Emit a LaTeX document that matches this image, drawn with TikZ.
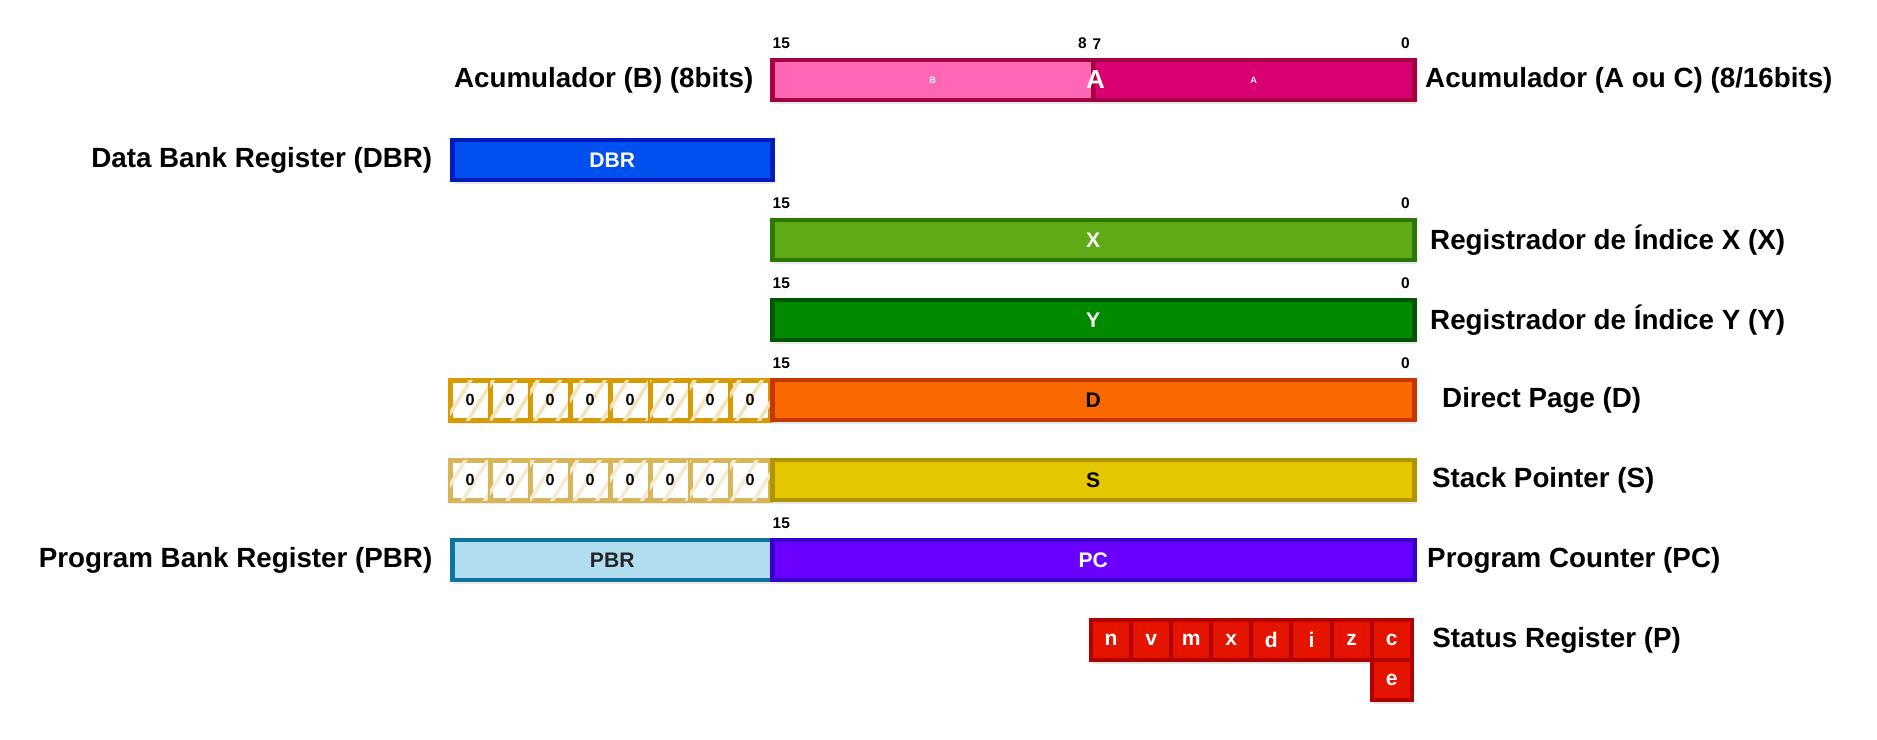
\documentclass[tikz,border=0pt]{standalone}
\usepackage{fontspec}
\setmainfont{Liberation Sans}
\usetikzlibrary{positioning, shadows, patterns.meta}
\definecolor{cPinkFill}{HTML}{FF66B3}
\definecolor{cMagFill}{HTML}{D80073}
\definecolor{cMagLine}{HTML}{A50040}
\definecolor{cBlueFill}{HTML}{0050EF}
\definecolor{cBlueLine}{HTML}{001DBC}
\definecolor{cGreenFill}{HTML}{60A917}
\definecolor{cGreenLine}{HTML}{2D7600}
\definecolor{cDkGreenFill}{HTML}{008A00}
\definecolor{cDkGreenLine}{HTML}{005700}
\definecolor{cOrangeFill}{HTML}{FA6800}
\definecolor{cOrangeLine}{HTML}{C73500}
\definecolor{cYellowFill}{HTML}{E3C800}
\definecolor{cYellowLine}{HTML}{B09500}
\definecolor{cSkyFill}{HTML}{B1DDF0}
\definecolor{cSkyLine}{HTML}{10739E}
\definecolor{cVioletFill}{HTML}{6A00FF}
\definecolor{cVioletLine}{HTML}{3700CC}
\definecolor{cRedFill}{HTML}{E51400}
\definecolor{cRedLine}{HTML}{B20000}
\definecolor{cZeroD}{HTML}{D79B00}
\definecolor{cZeroS}{HTML}{D6B656}
\tikzset{
  regbox/.style 2 args={
    draw=#2, fill=#1, line width=0.045cm,
    minimum height=0.40cm, inner sep=0pt, anchor=west,
    font=\fontsize{6}{7}\selectfont\bfseries, text=white,
    drop shadow={shadow xshift=0.02cm, shadow yshift=-0.035cm, opacity=0.18}
  },
  zerocell/.style={
    draw=#1, fill=white, line width=0.05cm,
    minimum width=0.40cm, minimum height=0.40cm, inner sep=0pt,
    font=\fontsize{4.6}{5}\selectfont\bfseries,
    postaction={pattern={Lines[angle=58, distance=0.19cm, line width=0.035cm]},
                pattern color=#1!28},
    drop shadow={shadow xshift=0.02cm, shadow yshift=-0.035cm, opacity=0.15}
  },
  statcell/.style={
    draw=cRedLine, fill=cRedFill, line width=0.04cm,
    minimum width=0.401cm, minimum height=0.40cm, inner sep=0pt,
    font=\fontsize{6}{7}\selectfont\bfseries, text=white,
    drop shadow={shadow xshift=0.02cm, shadow yshift=-0.035cm, opacity=0.18}
  },
  reglabel/.style={
    font=\fontsize{7.9}{9}\selectfont\bfseries, inner sep=0pt
  },
  bitno/.style={
    font=\fontsize{4.4}{5}\selectfont\bfseries, inner sep=0pt
  },
}
\begin{document}
\begin{tikzpicture}[
  node distance=0.16cm,
  tinytag/.style={font=\fontsize{2.6}{3}\selectfont\bfseries, text=white!85!pink},
  bigtag/.style={font=\fontsize{7.4}{8}\selectfont\bfseries, text=white, inner sep=0pt},
]
\useasboundingbox (0,0) rectangle (18.77,-7.39);

% row 1: accumulator
\node[regbox={cPinkFill}{cMagLine}, minimum width=3.21cm] (accB) at (7.70,-0.80) {};
\node[regbox={cMagFill}{cMagLine}, minimum width=3.21cm] (accA) at (10.91,-0.80) {};
\node[tinytag] at (accB) {B};
\node[tinytag] at (accA) {A};
\node[bigtag] at (accB.east) {A};
\node[bitno, above right=0.08cm and 0.02cm of accB.north west] {15};
\node[bitno, above left=0.08cm and 0.08cm of accB.north east] {8};
\node[bitno, above right=0.08cm and 0.01cm of accA.north west] {7};
\node[bitno, above left=0.08cm and 0.06cm of accA.north east] {0};
\node[reglabel, left=of accB] {Acumulador (B) (8bits)};
\node[reglabel, right=0.08cm of accA] {Acumulador (A ou C) (8/16bits)};

% row 2: data bank
\node[regbox={cBlueFill}{cBlueLine}, minimum width=3.20cm] (dbr) at (4.50,-1.60) {DBR};
\node[reglabel, left=0.17cm of dbr] {Data Bank Register (DBR)};

% row 3: index X
\node[regbox={cGreenFill}{cGreenLine}, minimum width=6.42cm] (regx) at (7.70,-2.40) {X};
\node[bitno, above right=0.08cm and 0.02cm of regx.north west] {15};
\node[bitno, above left=0.08cm and 0.06cm of regx.north east] {0};
\node[reglabel, right=0.13cm of regx] {Registrador de Índice X (X)};

% row 4: index Y
\node[regbox={cDkGreenFill}{cDkGreenLine}, minimum width=6.42cm] (regy) at (7.70,-3.20) {Y};
\node[bitno, above right=0.08cm and 0.02cm of regy.north west] {15};
\node[bitno, above left=0.08cm and 0.06cm of regy.north east] {0};
\node[reglabel, right=0.13cm of regy] {Registrador de Índice Y (Y)};

% row 5: direct page
\foreach \i in {0,...,7}
  \node[zerocell=cZeroD] (zd\i) at (4.70+0.40*\i,-4.00) {0};
\node[regbox={cOrangeFill}{cOrangeLine}, minimum width=6.42cm, text=black] (regd) at (7.70,-4.00) {D};
\node[bitno, above right=0.08cm and 0.02cm of regd.north west] {15};
\node[bitno, above left=0.08cm and 0.06cm of regd.north east] {0};
\node[reglabel, right=0.25cm of regd] {Direct Page (D)};

% row 6: stack pointer
\foreach \i in {0,...,7}
  \node[zerocell=cZeroS] (zs\i) at (4.70+0.40*\i,-4.80) {0};
\node[regbox={cYellowFill}{cYellowLine}, minimum width=6.42cm, text=black] (regs) at (7.70,-4.80) {S};
\node[reglabel, right=0.15cm of regs] {Stack Pointer (S)};

% row 7: program bank + counter
\node[regbox={cSkyFill}{cSkyLine}, minimum width=3.20cm, text=black!85] (pbr) at (4.50,-5.60) {PBR};
\node[regbox={cVioletFill}{cVioletLine}, minimum width=6.42cm] (pc) at (7.70,-5.60) {PC};
\node[bitno, above right=0.08cm and 0.02cm of pc.north west] {15};
\node[reglabel, left=0.17cm of pbr] {Program Bank Register (PBR)};
\node[reglabel, right=0.10cm of pc] {Program Counter (PC)};

% row 8: status flags
\foreach \f [count=\i from 0] in {n,v,m,x,d,i,z,c}
  \node[statcell] (st\f) at (11.11+0.401*\i,-6.40) {\f};
\node[statcell] (ste) at ([yshift=-0.40cm]stc) {e};
\node[reglabel, right=0.18cm of stc] {Status Register (P)};

\end{tikzpicture}
\end{document}
